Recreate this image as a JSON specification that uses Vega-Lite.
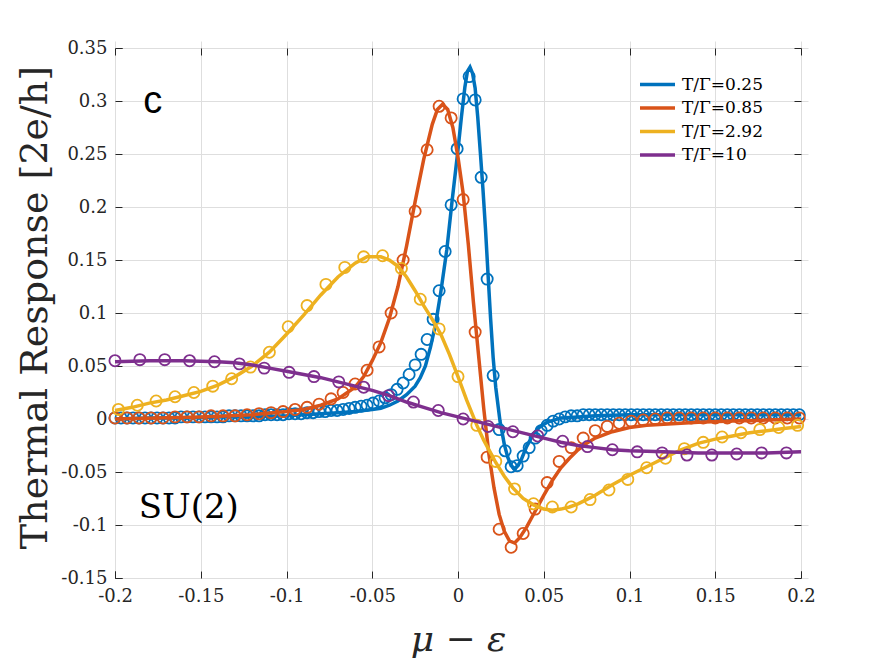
{
  "$schema": "https://vega.github.io/schema/vega-lite/v6.json",
  "width": 686,
  "height": 530,
  "autosize": {"type": "none"},
  "padding": {"left": 115, "top": 48, "right": 83, "bottom": 85},
  "background": "white",
  "datasets": {
    "fit": [
      {"s": "T/Γ=0.25", "x": -0.2, "y": 0.0}, {"s": "T/Γ=0.25", "x": -0.18, "y": 0.001}, {"s": "T/Γ=0.25", "x": -0.16, "y": 0.001},
      {"s": "T/Γ=0.25", "x": -0.14, "y": 0.002}, {"s": "T/Γ=0.25", "x": -0.12, "y": 0.002}, {"s": "T/Γ=0.25", "x": -0.1, "y": 0.003},
      {"s": "T/Γ=0.25", "x": -0.09, "y": 0.004}, {"s": "T/Γ=0.25", "x": -0.08, "y": 0.005}, {"s": "T/Γ=0.25", "x": -0.07, "y": 0.006},
      {"s": "T/Γ=0.25", "x": -0.06, "y": 0.007}, {"s": "T/Γ=0.25", "x": -0.05, "y": 0.009}, {"s": "T/Γ=0.25", "x": -0.045, "y": 0.01},
      {"s": "T/Γ=0.25", "x": -0.04, "y": 0.013}, {"s": "T/Γ=0.25", "x": -0.035, "y": 0.017}, {"s": "T/Γ=0.25", "x": -0.03, "y": 0.023},
      {"s": "T/Γ=0.25", "x": -0.025, "y": 0.031}, {"s": "T/Γ=0.25", "x": -0.022, "y": 0.039}, {"s": "T/Γ=0.25", "x": -0.019, "y": 0.05},
      {"s": "T/Γ=0.25", "x": -0.016, "y": 0.068}, {"s": "T/Γ=0.25", "x": -0.013, "y": 0.09}, {"s": "T/Γ=0.25", "x": -0.01, "y": 0.12},
      {"s": "T/Γ=0.25", "x": -0.0065, "y": 0.16}, {"s": "T/Γ=0.25", "x": -0.0035, "y": 0.205}, {"s": "T/Γ=0.25", "x": 0.0, "y": 0.254},
      {"s": "T/Γ=0.25", "x": 0.002, "y": 0.285}, {"s": "T/Γ=0.25", "x": 0.004, "y": 0.313}, {"s": "T/Γ=0.25", "x": 0.0055, "y": 0.328},
      {"s": "T/Γ=0.25", "x": 0.007, "y": 0.332}, {"s": "T/Γ=0.25", "x": 0.0085, "y": 0.326}, {"s": "T/Γ=0.25", "x": 0.01, "y": 0.312},
      {"s": "T/Γ=0.25", "x": 0.0115, "y": 0.285}, {"s": "T/Γ=0.25", "x": 0.013, "y": 0.252}, {"s": "T/Γ=0.25", "x": 0.0145, "y": 0.218},
      {"s": "T/Γ=0.25", "x": 0.016, "y": 0.18}, {"s": "T/Γ=0.25", "x": 0.0175, "y": 0.137}, {"s": "T/Γ=0.25", "x": 0.019, "y": 0.095},
      {"s": "T/Γ=0.25", "x": 0.0205, "y": 0.058}, {"s": "T/Γ=0.25", "x": 0.022, "y": 0.03}, {"s": "T/Γ=0.25", "x": 0.0245, "y": -0.002},
      {"s": "T/Γ=0.25", "x": 0.027, "y": -0.024}, {"s": "T/Γ=0.25", "x": 0.029, "y": -0.036}, {"s": "T/Γ=0.25", "x": 0.031, "y": -0.044},
      {"s": "T/Γ=0.25", "x": 0.033, "y": -0.047}, {"s": "T/Γ=0.25", "x": 0.035, "y": -0.044}, {"s": "T/Γ=0.25", "x": 0.037, "y": -0.038},
      {"s": "T/Γ=0.25", "x": 0.04, "y": -0.026}, {"s": "T/Γ=0.25", "x": 0.044, "y": -0.014}, {"s": "T/Γ=0.25", "x": 0.048, "y": -0.007},
      {"s": "T/Γ=0.25", "x": 0.052, "y": -0.003}, {"s": "T/Γ=0.25", "x": 0.056, "y": -0.001}, {"s": "T/Γ=0.25", "x": 0.06, "y": 0.001},
      {"s": "T/Γ=0.25", "x": 0.07, "y": 0.002}, {"s": "T/Γ=0.25", "x": 0.08, "y": 0.003}, {"s": "T/Γ=0.25", "x": 0.1, "y": 0.004},
      {"s": "T/Γ=0.25", "x": 0.15, "y": 0.004}, {"s": "T/Γ=0.25", "x": 0.2, "y": 0.004},

      {"s": "T/Γ=0.85", "x": -0.2, "y": 0.0}, {"s": "T/Γ=0.85", "x": -0.15, "y": 0.002}, {"s": "T/Γ=0.85", "x": -0.12, "y": 0.004},
      {"s": "T/Γ=0.85", "x": -0.1, "y": 0.007}, {"s": "T/Γ=0.85", "x": -0.09, "y": 0.009}, {"s": "T/Γ=0.85", "x": -0.08, "y": 0.013},
      {"s": "T/Γ=0.85", "x": -0.07, "y": 0.019}, {"s": "T/Γ=0.85", "x": -0.06, "y": 0.03}, {"s": "T/Γ=0.85", "x": -0.055, "y": 0.04},
      {"s": "T/Γ=0.85", "x": -0.05, "y": 0.055}, {"s": "T/Γ=0.85", "x": -0.045, "y": 0.072}, {"s": "T/Γ=0.85", "x": -0.04, "y": 0.095},
      {"s": "T/Γ=0.85", "x": -0.035, "y": 0.125}, {"s": "T/Γ=0.85", "x": -0.03, "y": 0.163}, {"s": "T/Γ=0.85", "x": -0.025, "y": 0.205},
      {"s": "T/Γ=0.85", "x": -0.02, "y": 0.245}, {"s": "T/Γ=0.85", "x": -0.015, "y": 0.278}, {"s": "T/Γ=0.85", "x": -0.012, "y": 0.292},
      {"s": "T/Γ=0.85", "x": -0.009, "y": 0.297}, {"s": "T/Γ=0.85", "x": -0.006, "y": 0.292}, {"s": "T/Γ=0.85", "x": -0.003, "y": 0.275},
      {"s": "T/Γ=0.85", "x": 0.0, "y": 0.247}, {"s": "T/Γ=0.85", "x": 0.003, "y": 0.213}, {"s": "T/Γ=0.85", "x": 0.006, "y": 0.165},
      {"s": "T/Γ=0.85", "x": 0.009, "y": 0.11}, {"s": "T/Γ=0.85", "x": 0.012, "y": 0.06}, {"s": "T/Γ=0.85", "x": 0.015, "y": 0.01},
      {"s": "T/Γ=0.85", "x": 0.018, "y": -0.033}, {"s": "T/Γ=0.85", "x": 0.021, "y": -0.065}, {"s": "T/Γ=0.85", "x": 0.024, "y": -0.09},
      {"s": "T/Γ=0.85", "x": 0.027, "y": -0.106}, {"s": "T/Γ=0.85", "x": 0.03, "y": -0.115}, {"s": "T/Γ=0.85", "x": 0.033, "y": -0.117},
      {"s": "T/Γ=0.85", "x": 0.036, "y": -0.112}, {"s": "T/Γ=0.85", "x": 0.04, "y": -0.102}, {"s": "T/Γ=0.85", "x": 0.045, "y": -0.087},
      {"s": "T/Γ=0.85", "x": 0.05, "y": -0.072}, {"s": "T/Γ=0.85", "x": 0.055, "y": -0.058}, {"s": "T/Γ=0.85", "x": 0.06, "y": -0.046},
      {"s": "T/Γ=0.85", "x": 0.065, "y": -0.037}, {"s": "T/Γ=0.85", "x": 0.07, "y": -0.029}, {"s": "T/Γ=0.85", "x": 0.075, "y": -0.023},
      {"s": "T/Γ=0.85", "x": 0.08, "y": -0.018}, {"s": "T/Γ=0.85", "x": 0.09, "y": -0.012}, {"s": "T/Γ=0.85", "x": 0.1, "y": -0.008},
      {"s": "T/Γ=0.85", "x": 0.11, "y": -0.006}, {"s": "T/Γ=0.85", "x": 0.12, "y": -0.005}, {"s": "T/Γ=0.85", "x": 0.14, "y": -0.003},
      {"s": "T/Γ=0.85", "x": 0.16, "y": -0.002}, {"s": "T/Γ=0.85", "x": 0.18, "y": -0.001}, {"s": "T/Γ=0.85", "x": 0.2, "y": 0.0},

      {"s": "T/Γ=2.92", "x": -0.2, "y": 0.008}, {"s": "T/Γ=2.92", "x": -0.19, "y": 0.011}, {"s": "T/Γ=2.92", "x": -0.18, "y": 0.015},
      {"s": "T/Γ=2.92", "x": -0.17, "y": 0.018}, {"s": "T/Γ=2.92", "x": -0.16, "y": 0.022}, {"s": "T/Γ=2.92", "x": -0.15, "y": 0.026},
      {"s": "T/Γ=2.92", "x": -0.14, "y": 0.032}, {"s": "T/Γ=2.92", "x": -0.13, "y": 0.04}, {"s": "T/Γ=2.92", "x": -0.12, "y": 0.05},
      {"s": "T/Γ=2.92", "x": -0.11, "y": 0.063}, {"s": "T/Γ=2.92", "x": -0.1, "y": 0.08}, {"s": "T/Γ=2.92", "x": -0.09, "y": 0.098},
      {"s": "T/Γ=2.92", "x": -0.08, "y": 0.117}, {"s": "T/Γ=2.92", "x": -0.07, "y": 0.134}, {"s": "T/Γ=2.92", "x": -0.06, "y": 0.147},
      {"s": "T/Γ=2.92", "x": -0.053, "y": 0.153}, {"s": "T/Γ=2.92", "x": -0.045, "y": 0.153}, {"s": "T/Γ=2.92", "x": -0.04, "y": 0.15},
      {"s": "T/Γ=2.92", "x": -0.035, "y": 0.144}, {"s": "T/Γ=2.92", "x": -0.03, "y": 0.134}, {"s": "T/Γ=2.92", "x": -0.025, "y": 0.121},
      {"s": "T/Γ=2.92", "x": -0.02, "y": 0.107}, {"s": "T/Γ=2.92", "x": -0.015, "y": 0.094}, {"s": "T/Γ=2.92", "x": -0.01, "y": 0.08},
      {"s": "T/Γ=2.92", "x": -0.005, "y": 0.061}, {"s": "T/Γ=2.92", "x": 0.0, "y": 0.04}, {"s": "T/Γ=2.92", "x": 0.005, "y": 0.018},
      {"s": "T/Γ=2.92", "x": 0.011, "y": -0.006}, {"s": "T/Γ=2.92", "x": 0.015, "y": -0.02}, {"s": "T/Γ=2.92", "x": 0.019, "y": -0.032},
      {"s": "T/Γ=2.92", "x": 0.022, "y": -0.041}, {"s": "T/Γ=2.92", "x": 0.027, "y": -0.054}, {"s": "T/Γ=2.92", "x": 0.032, "y": -0.065},
      {"s": "T/Γ=2.92", "x": 0.038, "y": -0.075}, {"s": "T/Γ=2.92", "x": 0.044, "y": -0.081}, {"s": "T/Γ=2.92", "x": 0.05, "y": -0.085},
      {"s": "T/Γ=2.92", "x": 0.055, "y": -0.086}, {"s": "T/Γ=2.92", "x": 0.06, "y": -0.085}, {"s": "T/Γ=2.92", "x": 0.065, "y": -0.083},
      {"s": "T/Γ=2.92", "x": 0.07, "y": -0.08}, {"s": "T/Γ=2.92", "x": 0.075, "y": -0.076}, {"s": "T/Γ=2.92", "x": 0.08, "y": -0.072},
      {"s": "T/Γ=2.92", "x": 0.09, "y": -0.062}, {"s": "T/Γ=2.92", "x": 0.1, "y": -0.053}, {"s": "T/Γ=2.92", "x": 0.11, "y": -0.045},
      {"s": "T/Γ=2.92", "x": 0.12, "y": -0.037}, {"s": "T/Γ=2.92", "x": 0.13, "y": -0.029}, {"s": "T/Γ=2.92", "x": 0.14, "y": -0.023},
      {"s": "T/Γ=2.92", "x": 0.15, "y": -0.019}, {"s": "T/Γ=2.92", "x": 0.16, "y": -0.016}, {"s": "T/Γ=2.92", "x": 0.17, "y": -0.013},
      {"s": "T/Γ=2.92", "x": 0.18, "y": -0.011}, {"s": "T/Γ=2.92", "x": 0.19, "y": -0.009}, {"s": "T/Γ=2.92", "x": 0.2, "y": -0.007},

      {"s": "T/Γ=10", "x": -0.2, "y": 0.054}, {"s": "T/Γ=10", "x": -0.18, "y": 0.055}, {"s": "T/Γ=10", "x": -0.16, "y": 0.055},
      {"s": "T/Γ=10", "x": -0.14, "y": 0.054}, {"s": "T/Γ=10", "x": -0.13, "y": 0.053}, {"s": "T/Γ=10", "x": -0.12, "y": 0.051},
      {"s": "T/Γ=10", "x": -0.11, "y": 0.048}, {"s": "T/Γ=10", "x": -0.1, "y": 0.045}, {"s": "T/Γ=10", "x": -0.09, "y": 0.042},
      {"s": "T/Γ=10", "x": -0.08, "y": 0.039}, {"s": "T/Γ=10", "x": -0.07, "y": 0.035}, {"s": "T/Γ=10", "x": -0.06, "y": 0.031},
      {"s": "T/Γ=10", "x": -0.05, "y": 0.027}, {"s": "T/Γ=10", "x": -0.04, "y": 0.022}, {"s": "T/Γ=10", "x": -0.03, "y": 0.016},
      {"s": "T/Γ=10", "x": -0.02, "y": 0.011}, {"s": "T/Γ=10", "x": -0.01, "y": 0.006}, {"s": "T/Γ=10", "x": 0.0, "y": 0.002},
      {"s": "T/Γ=10", "x": 0.01, "y": -0.002}, {"s": "T/Γ=10", "x": 0.02, "y": -0.006}, {"s": "T/Γ=10", "x": 0.03, "y": -0.01},
      {"s": "T/Γ=10", "x": 0.04, "y": -0.014}, {"s": "T/Γ=10", "x": 0.05, "y": -0.018}, {"s": "T/Γ=10", "x": 0.06, "y": -0.022},
      {"s": "T/Γ=10", "x": 0.07, "y": -0.025}, {"s": "T/Γ=10", "x": 0.08, "y": -0.027}, {"s": "T/Γ=10", "x": 0.09, "y": -0.029},
      {"s": "T/Γ=10", "x": 0.1, "y": -0.03}, {"s": "T/Γ=10", "x": 0.12, "y": -0.031}, {"s": "T/Γ=10", "x": 0.14, "y": -0.032},
      {"s": "T/Γ=10", "x": 0.16, "y": -0.032}, {"s": "T/Γ=10", "x": 0.18, "y": -0.032}, {"s": "T/Γ=10", "x": 0.2, "y": -0.031}
    ],
    "pts": [
      {"s": "T/Γ=0.25", "x": -0.2, "y": 0.001}, {"s": "T/Γ=0.25", "x": -0.1965, "y": 0.001}, {"s": "T/Γ=0.25", "x": -0.193, "y": 0.001},
      {"s": "T/Γ=0.25", "x": -0.1895, "y": 0.001}, {"s": "T/Γ=0.25", "x": -0.186, "y": 0.001}, {"s": "T/Γ=0.25", "x": -0.1825, "y": 0.001},
      {"s": "T/Γ=0.25", "x": -0.179, "y": 0.001}, {"s": "T/Γ=0.25", "x": -0.1755, "y": 0.001}, {"s": "T/Γ=0.25", "x": -0.172, "y": 0.001},
      {"s": "T/Γ=0.25", "x": -0.1685, "y": 0.001}, {"s": "T/Γ=0.25", "x": -0.165, "y": 0.001}, {"s": "T/Γ=0.25", "x": -0.1615, "y": 0.002},
      {"s": "T/Γ=0.25", "x": -0.158, "y": 0.002}, {"s": "T/Γ=0.25", "x": -0.1545, "y": 0.002}, {"s": "T/Γ=0.25", "x": -0.151, "y": 0.002},
      {"s": "T/Γ=0.25", "x": -0.1475, "y": 0.002}, {"s": "T/Γ=0.25", "x": -0.144, "y": 0.002}, {"s": "T/Γ=0.25", "x": -0.1405, "y": 0.002},
      {"s": "T/Γ=0.25", "x": -0.137, "y": 0.002}, {"s": "T/Γ=0.25", "x": -0.1335, "y": 0.003}, {"s": "T/Γ=0.25", "x": -0.13, "y": 0.003},
      {"s": "T/Γ=0.25", "x": -0.1265, "y": 0.003}, {"s": "T/Γ=0.25", "x": -0.123, "y": 0.003}, {"s": "T/Γ=0.25", "x": -0.1195, "y": 0.003},
      {"s": "T/Γ=0.25", "x": -0.116, "y": 0.003}, {"s": "T/Γ=0.25", "x": -0.1125, "y": 0.004}, {"s": "T/Γ=0.25", "x": -0.109, "y": 0.004},
      {"s": "T/Γ=0.25", "x": -0.1055, "y": 0.004}, {"s": "T/Γ=0.25", "x": -0.102, "y": 0.004}, {"s": "T/Γ=0.25", "x": -0.0985, "y": 0.005},
      {"s": "T/Γ=0.25", "x": -0.095, "y": 0.005}, {"s": "T/Γ=0.25", "x": -0.0915, "y": 0.005}, {"s": "T/Γ=0.25", "x": -0.088, "y": 0.006},
      {"s": "T/Γ=0.25", "x": -0.0845, "y": 0.006}, {"s": "T/Γ=0.25", "x": -0.081, "y": 0.007}, {"s": "T/Γ=0.25", "x": -0.0775, "y": 0.007},
      {"s": "T/Γ=0.25", "x": -0.074, "y": 0.008}, {"s": "T/Γ=0.25", "x": -0.0705, "y": 0.008}, {"s": "T/Γ=0.25", "x": -0.067, "y": 0.009},
      {"s": "T/Γ=0.25", "x": -0.0635, "y": 0.01}, {"s": "T/Γ=0.25", "x": -0.06, "y": 0.011}, {"s": "T/Γ=0.25", "x": -0.0565, "y": 0.012},
      {"s": "T/Γ=0.25", "x": -0.053, "y": 0.013}, {"s": "T/Γ=0.25", "x": -0.0495, "y": 0.015}, {"s": "T/Γ=0.25", "x": -0.046, "y": 0.017},
      {"s": "T/Γ=0.25", "x": -0.0425, "y": 0.02}, {"s": "T/Γ=0.25", "x": -0.039, "y": 0.023}, {"s": "T/Γ=0.25", "x": -0.0355, "y": 0.028},
      {"s": "T/Γ=0.25", "x": -0.032, "y": 0.034}, {"s": "T/Γ=0.25", "x": -0.0285, "y": 0.042}, {"s": "T/Γ=0.25", "x": -0.025, "y": 0.051},
      {"s": "T/Γ=0.25", "x": -0.0215, "y": 0.061}, {"s": "T/Γ=0.25", "x": -0.018, "y": 0.075}, {"s": "T/Γ=0.25", "x": -0.0145, "y": 0.094},
      {"s": "T/Γ=0.25", "x": -0.011, "y": 0.121}, {"s": "T/Γ=0.25", "x": -0.0075, "y": 0.158}, {"s": "T/Γ=0.25", "x": -0.004, "y": 0.202},
      {"s": "T/Γ=0.25", "x": -0.0005, "y": 0.255}, {"s": "T/Γ=0.25", "x": 0.003, "y": 0.302}, {"s": "T/Γ=0.25", "x": 0.0065, "y": 0.323},
      {"s": "T/Γ=0.25", "x": 0.01, "y": 0.301}, {"s": "T/Γ=0.25", "x": 0.0135, "y": 0.228}, {"s": "T/Γ=0.25", "x": 0.017, "y": 0.132},
      {"s": "T/Γ=0.25", "x": 0.0205, "y": 0.041}, {"s": "T/Γ=0.25", "x": 0.024, "y": -0.01}, {"s": "T/Γ=0.25", "x": 0.0275, "y": -0.03},
      {"s": "T/Γ=0.25", "x": 0.031, "y": -0.045}, {"s": "T/Γ=0.25", "x": 0.0345, "y": -0.044}, {"s": "T/Γ=0.25", "x": 0.038, "y": -0.035},
      {"s": "T/Γ=0.25", "x": 0.0415, "y": -0.027}, {"s": "T/Γ=0.25", "x": 0.045, "y": -0.018}, {"s": "T/Γ=0.25", "x": 0.0485, "y": -0.011},
      {"s": "T/Γ=0.25", "x": 0.052, "y": -0.006}, {"s": "T/Γ=0.25", "x": 0.0555, "y": -0.002}, {"s": "T/Γ=0.25", "x": 0.059, "y": 0.0},
      {"s": "T/Γ=0.25", "x": 0.0625, "y": 0.002}, {"s": "T/Γ=0.25", "x": 0.066, "y": 0.003}, {"s": "T/Γ=0.25", "x": 0.0695, "y": 0.003},
      {"s": "T/Γ=0.25", "x": 0.073, "y": 0.004}, {"s": "T/Γ=0.25", "x": 0.0765, "y": 0.004}, {"s": "T/Γ=0.25", "x": 0.08, "y": 0.004},
      {"s": "T/Γ=0.25", "x": 0.0835, "y": 0.004}, {"s": "T/Γ=0.25", "x": 0.087, "y": 0.004}, {"s": "T/Γ=0.25", "x": 0.0905, "y": 0.004},
      {"s": "T/Γ=0.25", "x": 0.094, "y": 0.004}, {"s": "T/Γ=0.25", "x": 0.0975, "y": 0.004}, {"s": "T/Γ=0.25", "x": 0.101, "y": 0.004},
      {"s": "T/Γ=0.25", "x": 0.1045, "y": 0.004}, {"s": "T/Γ=0.25", "x": 0.108, "y": 0.004}, {"s": "T/Γ=0.25", "x": 0.1115, "y": 0.004},
      {"s": "T/Γ=0.25", "x": 0.115, "y": 0.004}, {"s": "T/Γ=0.25", "x": 0.1185, "y": 0.004}, {"s": "T/Γ=0.25", "x": 0.122, "y": 0.004},
      {"s": "T/Γ=0.25", "x": 0.1255, "y": 0.004}, {"s": "T/Γ=0.25", "x": 0.129, "y": 0.004}, {"s": "T/Γ=0.25", "x": 0.1325, "y": 0.004},
      {"s": "T/Γ=0.25", "x": 0.136, "y": 0.004}, {"s": "T/Γ=0.25", "x": 0.1395, "y": 0.004}, {"s": "T/Γ=0.25", "x": 0.143, "y": 0.004},
      {"s": "T/Γ=0.25", "x": 0.1465, "y": 0.004}, {"s": "T/Γ=0.25", "x": 0.15, "y": 0.004}, {"s": "T/Γ=0.25", "x": 0.1535, "y": 0.004},
      {"s": "T/Γ=0.25", "x": 0.157, "y": 0.004}, {"s": "T/Γ=0.25", "x": 0.1605, "y": 0.004}, {"s": "T/Γ=0.25", "x": 0.164, "y": 0.004},
      {"s": "T/Γ=0.25", "x": 0.1675, "y": 0.004}, {"s": "T/Γ=0.25", "x": 0.171, "y": 0.004}, {"s": "T/Γ=0.25", "x": 0.1745, "y": 0.004},
      {"s": "T/Γ=0.25", "x": 0.178, "y": 0.004}, {"s": "T/Γ=0.25", "x": 0.1815, "y": 0.004}, {"s": "T/Γ=0.25", "x": 0.185, "y": 0.004},
      {"s": "T/Γ=0.25", "x": 0.1885, "y": 0.004}, {"s": "T/Γ=0.25", "x": 0.192, "y": 0.004}, {"s": "T/Γ=0.25", "x": 0.1955, "y": 0.004},
      {"s": "T/Γ=0.25", "x": 0.199, "y": 0.004},

      {"s": "T/Γ=0.85", "x": -0.2, "y": 0.001}, {"s": "T/Γ=0.85", "x": -0.193, "y": 0.001}, {"s": "T/Γ=0.85", "x": -0.186, "y": 0.001},
      {"s": "T/Γ=0.85", "x": -0.179, "y": 0.001}, {"s": "T/Γ=0.85", "x": -0.172, "y": 0.001}, {"s": "T/Γ=0.85", "x": -0.165, "y": 0.002},
      {"s": "T/Γ=0.85", "x": -0.158, "y": 0.002}, {"s": "T/Γ=0.85", "x": -0.151, "y": 0.002}, {"s": "T/Γ=0.85", "x": -0.144, "y": 0.003},
      {"s": "T/Γ=0.85", "x": -0.137, "y": 0.003}, {"s": "T/Γ=0.85", "x": -0.13, "y": 0.003}, {"s": "T/Γ=0.85", "x": -0.123, "y": 0.004},
      {"s": "T/Γ=0.85", "x": -0.116, "y": 0.005}, {"s": "T/Γ=0.85", "x": -0.109, "y": 0.006}, {"s": "T/Γ=0.85", "x": -0.102, "y": 0.007},
      {"s": "T/Γ=0.85", "x": -0.095, "y": 0.009}, {"s": "T/Γ=0.85", "x": -0.088, "y": 0.011}, {"s": "T/Γ=0.85", "x": -0.081, "y": 0.014},
      {"s": "T/Γ=0.85", "x": -0.074, "y": 0.019}, {"s": "T/Γ=0.85", "x": -0.067, "y": 0.025}, {"s": "T/Γ=0.85", "x": -0.06, "y": 0.033},
      {"s": "T/Γ=0.85", "x": -0.053, "y": 0.046}, {"s": "T/Γ=0.85", "x": -0.046, "y": 0.068}, {"s": "T/Γ=0.85", "x": -0.039, "y": 0.1},
      {"s": "T/Γ=0.85", "x": -0.032, "y": 0.15}, {"s": "T/Γ=0.85", "x": -0.025, "y": 0.196}, {"s": "T/Γ=0.85", "x": -0.018, "y": 0.254},
      {"s": "T/Γ=0.85", "x": -0.011, "y": 0.295}, {"s": "T/Γ=0.85", "x": -0.004, "y": 0.284}, {"s": "T/Γ=0.85", "x": 0.003, "y": 0.207},
      {"s": "T/Γ=0.85", "x": 0.01, "y": 0.082}, {"s": "T/Γ=0.85", "x": 0.017, "y": -0.036}, {"s": "T/Γ=0.85", "x": 0.024, "y": -0.104},
      {"s": "T/Γ=0.85", "x": 0.031, "y": -0.121}, {"s": "T/Γ=0.85", "x": 0.038, "y": -0.108}, {"s": "T/Γ=0.85", "x": 0.045, "y": -0.085},
      {"s": "T/Γ=0.85", "x": 0.052, "y": -0.06}, {"s": "T/Γ=0.85", "x": 0.059, "y": -0.04}, {"s": "T/Γ=0.85", "x": 0.066, "y": -0.027},
      {"s": "T/Γ=0.85", "x": 0.073, "y": -0.018}, {"s": "T/Γ=0.85", "x": 0.08, "y": -0.011}, {"s": "T/Γ=0.85", "x": 0.087, "y": -0.007},
      {"s": "T/Γ=0.85", "x": 0.094, "y": -0.004}, {"s": "T/Γ=0.85", "x": 0.101, "y": -0.002}, {"s": "T/Γ=0.85", "x": 0.108, "y": -0.001},
      {"s": "T/Γ=0.85", "x": 0.115, "y": 0.0}, {"s": "T/Γ=0.85", "x": 0.122, "y": 0.001}, {"s": "T/Γ=0.85", "x": 0.129, "y": 0.001},
      {"s": "T/Γ=0.85", "x": 0.136, "y": 0.001}, {"s": "T/Γ=0.85", "x": 0.143, "y": 0.001}, {"s": "T/Γ=0.85", "x": 0.15, "y": 0.001},
      {"s": "T/Γ=0.85", "x": 0.157, "y": 0.001}, {"s": "T/Γ=0.85", "x": 0.164, "y": 0.001}, {"s": "T/Γ=0.85", "x": 0.171, "y": 0.001},
      {"s": "T/Γ=0.85", "x": 0.178, "y": 0.001}, {"s": "T/Γ=0.85", "x": 0.185, "y": 0.001}, {"s": "T/Γ=0.85", "x": 0.192, "y": 0.001},
      {"s": "T/Γ=0.85", "x": 0.199, "y": 0.001},

      {"s": "T/Γ=2.92", "x": -0.198, "y": 0.009}, {"s": "T/Γ=2.92", "x": -0.187, "y": 0.013}, {"s": "T/Γ=2.92", "x": -0.176, "y": 0.017},
      {"s": "T/Γ=2.92", "x": -0.165, "y": 0.021}, {"s": "T/Γ=2.92", "x": -0.154, "y": 0.025}, {"s": "T/Γ=2.92", "x": -0.143, "y": 0.031},
      {"s": "T/Γ=2.92", "x": -0.132, "y": 0.038}, {"s": "T/Γ=2.92", "x": -0.121, "y": 0.049}, {"s": "T/Γ=2.92", "x": -0.11, "y": 0.063},
      {"s": "T/Γ=2.92", "x": -0.099, "y": 0.087}, {"s": "T/Γ=2.92", "x": -0.088, "y": 0.107}, {"s": "T/Γ=2.92", "x": -0.077, "y": 0.127},
      {"s": "T/Γ=2.92", "x": -0.066, "y": 0.143}, {"s": "T/Γ=2.92", "x": -0.055, "y": 0.153}, {"s": "T/Γ=2.92", "x": -0.044, "y": 0.154},
      {"s": "T/Γ=2.92", "x": -0.033, "y": 0.142}, {"s": "T/Γ=2.92", "x": -0.022, "y": 0.113}, {"s": "T/Γ=2.92", "x": -0.011, "y": 0.085},
      {"s": "T/Γ=2.92", "x": 0.0, "y": 0.04}, {"s": "T/Γ=2.92", "x": 0.011, "y": -0.006}, {"s": "T/Γ=2.92", "x": 0.022, "y": -0.04},
      {"s": "T/Γ=2.92", "x": 0.033, "y": -0.066}, {"s": "T/Γ=2.92", "x": 0.044, "y": -0.08}, {"s": "T/Γ=2.92", "x": 0.055, "y": -0.083},
      {"s": "T/Γ=2.92", "x": 0.066, "y": -0.083}, {"s": "T/Γ=2.92", "x": 0.077, "y": -0.076}, {"s": "T/Γ=2.92", "x": 0.088, "y": -0.067},
      {"s": "T/Γ=2.92", "x": 0.099, "y": -0.057}, {"s": "T/Γ=2.92", "x": 0.11, "y": -0.046}, {"s": "T/Γ=2.92", "x": 0.121, "y": -0.037},
      {"s": "T/Γ=2.92", "x": 0.132, "y": -0.028}, {"s": "T/Γ=2.92", "x": 0.143, "y": -0.022}, {"s": "T/Γ=2.92", "x": 0.154, "y": -0.017},
      {"s": "T/Γ=2.92", "x": 0.165, "y": -0.013}, {"s": "T/Γ=2.92", "x": 0.176, "y": -0.01}, {"s": "T/Γ=2.92", "x": 0.187, "y": -0.008},
      {"s": "T/Γ=2.92", "x": 0.198, "y": -0.006},

      {"s": "T/Γ=10", "x": -0.2, "y": 0.055}, {"s": "T/Γ=10", "x": -0.1855, "y": 0.056}, {"s": "T/Γ=10", "x": -0.171, "y": 0.056},
      {"s": "T/Γ=10", "x": -0.1565, "y": 0.055}, {"s": "T/Γ=10", "x": -0.142, "y": 0.054}, {"s": "T/Γ=10", "x": -0.1275, "y": 0.052},
      {"s": "T/Γ=10", "x": -0.113, "y": 0.048}, {"s": "T/Γ=10", "x": -0.0985, "y": 0.044}, {"s": "T/Γ=10", "x": -0.084, "y": 0.04},
      {"s": "T/Γ=10", "x": -0.0695, "y": 0.035}, {"s": "T/Γ=10", "x": -0.055, "y": 0.03}, {"s": "T/Γ=10", "x": -0.0405, "y": 0.022},
      {"s": "T/Γ=10", "x": -0.026, "y": 0.016}, {"s": "T/Γ=10", "x": -0.0115, "y": 0.008}, {"s": "T/Γ=10", "x": 0.003, "y": 0.0},
      {"s": "T/Γ=10", "x": 0.0175, "y": -0.007}, {"s": "T/Γ=10", "x": 0.032, "y": -0.012}, {"s": "T/Γ=10", "x": 0.0465, "y": -0.016},
      {"s": "T/Γ=10", "x": 0.061, "y": -0.021}, {"s": "T/Γ=10", "x": 0.0755, "y": -0.026}, {"s": "T/Γ=10", "x": 0.09, "y": -0.029},
      {"s": "T/Γ=10", "x": 0.1045, "y": -0.031}, {"s": "T/Γ=10", "x": 0.119, "y": -0.032}, {"s": "T/Γ=10", "x": 0.1335, "y": -0.034},
      {"s": "T/Γ=10", "x": 0.148, "y": -0.034}, {"s": "T/Γ=10", "x": 0.1625, "y": -0.033}, {"s": "T/Γ=10", "x": 0.177, "y": -0.032},
      {"s": "T/Γ=10", "x": 0.1915, "y": -0.032}
    ]
  },
  "config": {
    "view": {"stroke": "#262626", "strokeWidth": 1},
    "axis": {
      "domain": false, "grid": true, "gridColor": "#dedede", "gridWidth": 1,
      "ticks": true, "tickSize": 7, "tickColor": "#262626", "tickWidth": 1, "offset": -7,
      "labelFont": "DejaVu Serif", "labelFontSize": 18, "labelColor": "#262626",
      "labelFlush": false, "labelOverlap": false, "labelBound": false,
      "titleFont": "DejaVu Serif", "titleFontWeight": "normal", "titleColor": "#262626"
    },
    "legend": {
      "labelFont": "DejaVu Serif", "labelFontSize": 17, "labelColor": "#000000",
      "symbolType": "stroke", "symbolStrokeWidth": 3.5, "symbolSize": 1225,
      "labelOffset": 5, "clipHeight": 23, "rowPadding": 0.5
    }
  },
  "encoding": {
    "x": {"field": "x", "type": "quantitative", "scale": {"domain": [-0.2, 0.2], "nice": false, "zero": false}, "axis": null},
    "y": {"field": "y", "type": "quantitative", "scale": {"domain": [-0.15, 0.35], "nice": false, "zero": false}, "axis": null}
  },
  "layer": [
    {
      "data": {"name": "pts"},
      "transform": [{"filter": "datum.s == 'T/Γ=0.25'"}],
      "mark": {"type": "point", "shape": "circle", "filled": false, "size": 125, "strokeWidth": 1.8, "opacity": 1},
      "encoding": {
        "x": {"field": "x", "type": "quantitative",
              "axis": {"orient": "bottom", "values": [-0.2, -0.15, -0.1, -0.05, 0, 0.05, 0.1, 0.15, 0.2],
                       "labelExpr": "'' + datum.value", "labelPadding": 9,
                       "title": "μ − ε", "titleFontSize": 36, "titleFontStyle": "italic",
                       "titleY": 79, "titleBaseline": "alphabetic"}},
        "y": {"field": "y", "type": "quantitative",
              "axis": {"orient": "left", "values": [-0.15, -0.1, -0.05, 0, 0.05, 0.1, 0.15, 0.2, 0.25, 0.3, 0.35],
                       "labelExpr": "'' + datum.value", "labelPadding": 8,
                       "title": "Thermal Response [2e/h]", "titleFontSize": 38, "titleAngle": -90,
                       "titleX": -76, "titleY": 259, "titleAlign": "center", "titleBaseline": "alphabetic"}},
        "color": {"field": "s", "type": "nominal",
                  "scale": {"domain": ["T/Γ=0.25", "T/Γ=0.85", "T/Γ=2.92", "T/Γ=10"],
                            "range": ["#0072BD", "#D95319", "#EDB120", "#7E2F8E"]},
                  "legend": {"orient": "none", "legendX": 523, "legendY": 25, "padding": 0, "title": null, "symbolType": "stroke"}}
      }
    },
    {
      "data": {"name": "fit"},
      "transform": [{"filter": "datum.s == 'T/Γ=0.25'"}],
      "mark": {"type": "line", "strokeWidth": 3.5},
      "encoding": {"color": {"field": "s", "type": "nominal"}}
    },
    {
      "data": {"name": "pts"},
      "transform": [{"filter": "datum.s == 'T/Γ=0.85'"}],
      "mark": {"type": "point", "shape": "circle", "filled": false, "size": 125, "strokeWidth": 1.8, "opacity": 1},
      "encoding": {"color": {"field": "s", "type": "nominal"}}
    },
    {
      "data": {"name": "fit"},
      "transform": [{"filter": "datum.s == 'T/Γ=0.85'"}],
      "mark": {"type": "line", "strokeWidth": 3.5},
      "encoding": {"color": {"field": "s", "type": "nominal"}}
    },
    {
      "data": {"name": "pts"},
      "transform": [{"filter": "datum.s == 'T/Γ=2.92'"}],
      "mark": {"type": "point", "shape": "circle", "filled": false, "size": 125, "strokeWidth": 1.8, "opacity": 1},
      "encoding": {"color": {"field": "s", "type": "nominal"}}
    },
    {
      "data": {"name": "fit"},
      "transform": [{"filter": "datum.s == 'T/Γ=2.92'"}],
      "mark": {"type": "line", "strokeWidth": 3.5},
      "encoding": {"color": {"field": "s", "type": "nominal"}}
    },
    {
      "data": {"name": "pts"},
      "transform": [{"filter": "datum.s == 'T/Γ=10'"}],
      "mark": {"type": "point", "shape": "circle", "filled": false, "size": 125, "strokeWidth": 1.8, "opacity": 1},
      "encoding": {"color": {"field": "s", "type": "nominal"}}
    },
    {
      "data": {"name": "fit"},
      "transform": [{"filter": "datum.s == 'T/Γ=10'"}],
      "mark": {"type": "line", "strokeWidth": 3.5},
      "encoding": {"color": {"field": "s", "type": "nominal"}}
    },
    {
      "data": {"values": [{"label": "c", "x": -0.178, "y": 0.289}]},
      "mark": {"type": "text", "font": "Liberation Sans", "fontSize": 38, "color": "#000000", "align": "center", "baseline": "alphabetic"},
      "encoding": {
        "text": {"field": "label"},
        "x": {"field": "x", "type": "quantitative",
              "axis": {"orient": "top", "values": [-0.2, -0.15, -0.1, -0.05, 0, 0.05, 0.1, 0.15, 0.2],
                       "labels": false, "grid": false, "title": null}},
        "y": {"field": "y", "type": "quantitative",
              "axis": {"orient": "right", "values": [-0.15, -0.1, -0.05, 0, 0.05, 0.1, 0.15, 0.2, 0.25, 0.3, 0.35],
                       "labels": false, "grid": false, "title": null}}
      }
    },
    {
      "data": {"values": [{"label": "SU(2)", "x": -0.157, "y": -0.093}]},
      "mark": {"type": "text", "font": "DejaVu Serif", "fontSize": 34, "color": "#000000", "align": "center", "baseline": "alphabetic"},
      "encoding": {"text": {"field": "label"}}
    }
  ],
  "resolve": {"axis": {"x": "independent", "y": "independent"}}
}
